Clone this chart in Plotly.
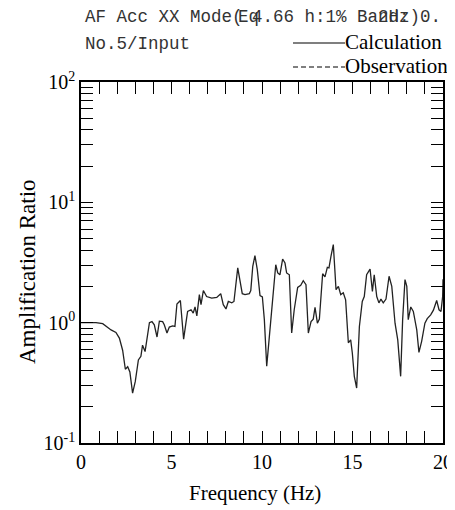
import plotly.graph_objects as go

# calculated amplification ratio
freq = [0.0, 0.83, 1.2, 1.66, 1.93, 2.12, 2.3, 2.45, 2.58, 2.7, 2.85, 3.0, 3.17, 3.31, 3.4, 3.54,
        3.78, 3.92, 4.05, 4.2, 4.33, 4.51, 4.6, 4.75, 4.88, 5.06, 5.19, 5.3, 5.49, 5.58, 5.67, 5.8,
        5.89, 6.08, 6.2, 6.3, 6.4, 6.54, 6.63, 6.76, 6.94, 7.22, 7.5, 7.72, 7.86, 8.01, 8.14, 8.33,
        8.45, 8.66, 8.78, 8.91, 9.06, 9.3, 9.38, 9.49, 9.61, 9.74, 9.89, 10.02, 10.13, 10.26, 10.39,
        10.54, 10.66, 10.76, 10.87, 10.99, 11.14, 11.27, 11.36, 11.51, 11.64, 11.78, 11.97, 12.14,
        12.28, 12.43, 12.56, 12.71, 12.83, 12.93, 13.06, 13.17, 13.35, 13.48, 13.61, 13.7, 13.81,
        13.94, 14.03, 14.09, 14.22, 14.35, 14.49, 14.62, 14.77, 14.9, 14.99, 15.1, 15.23, 15.38,
        15.54, 15.65, 15.78, 15.97, 16.1, 16.2, 16.34, 16.46, 16.57, 16.7, 16.85, 17.02, 17.17,
        17.35, 17.5, 17.66, 17.77, 17.9, 18.0, 18.08, 18.22, 18.36, 18.55, 18.67, 18.82, 19.0,
        19.13, 19.32, 19.47, 19.65, 19.78, 19.89, 19.98, 20.0]
amp = [1.0, 1.0, 0.98, 0.87, 0.83, 0.745, 0.59, 0.41, 0.43, 0.39, 0.26, 0.325, 0.49, 0.525, 0.65, 0.575,
       1.0, 1.02, 0.96, 0.76, 1.03, 1.02, 0.96, 0.82, 0.92, 0.94, 0.93, 1.43, 1.53, 1.04, 0.73, 1.0,
       1.24, 1.28, 1.2, 1.35, 1.14, 1.71, 1.41, 1.85, 1.65, 1.6, 1.62, 1.74, 1.41, 1.3, 1.5, 1.46,
       1.5, 2.85, 2.2, 1.74, 1.71, 1.74, 1.85, 2.94, 3.6, 2.76, 1.68, 1.64, 1.06, 0.434, 0.72,
       1.28, 2.0, 3.03, 2.59, 2.5, 3.38, 3.13, 2.59, 2.5, 0.82, 1.28, 1.96, 2.04,
       2.23, 2.07, 0.82, 1.02, 1.07, 1.34, 0.99, 1.07, 2.55, 2.4, 2.88, 2.85, 3.56,
       4.45, 2.67, 1.88, 2.0, 1.71, 1.77, 1.55, 0.68, 0.72, 0.56, 0.358, 0.286, 0.93,
       1.5, 1.65, 2.5, 2.79, 1.82, 2.5, 1.65, 1.46, 1.57, 1.46, 1.57, 2.43, 2.0,
       0.99, 0.72, 0.358, 1.06, 2.28, 2.0, 1.06, 1.35, 1.24, 0.87, 0.566, 0.70, 0.99,
       1.08, 1.16, 1.27, 1.53, 1.28, 1.24, 1.65, 2.3]

x_major = [0, 5, 10, 15, 20]
x_minor = [v for v in range(0, 21) if v % 5]
y_major = [0.1, 1, 10, 100]
y_major_text = ["10<sup>-1</sup>", "10<sup>0</sup>", "10<sup>1</sup>", "10<sup>2</sup>"]
y_minor = [m * 10.0 ** e for e in (-1, 0, 1) for m in range(2, 10)]

serif = "Liberation Serif, Times New Roman, serif"
mono = "Liberation Mono, Courier New, monospace"

W, H = 455, 510
OFF = 8  # page body margin
L, R, T, B = 73, 20, 74, 75
pw, ph = W - L - R, H - T - B

# screen pixel -> paper coords
def px(x):
    return (x - OFF - L) / pw

def py(y):
    return (H - B - (y - OFF)) / ph

fig = go.Figure()
fig.add_trace(go.Scatter(x=freq, y=amp, mode="lines", line=dict(color="#222", width=1.3),
                         showlegend=False, hoverinfo="skip"))

axis_common = dict(showgrid=False, zeroline=False, showline=True, linecolor="black", linewidth=1.5,
                   mirror="ticks", ticks="inside", ticklen=12, tickwidth=1.2, tickcolor="black",
                   tickfont=dict(family=serif, size=20, color="black"))
minor_common = dict(ticks="inside", ticklen=12, tickwidth=1.2, tickcolor="black", showgrid=False)

fig.update_xaxes(range=[0, 20], tickmode="array", tickvals=x_major,
                 minor=dict(tickmode="array", tickvals=x_minor, **minor_common), **axis_common)
fig.update_yaxes(type="log", range=[-1, 2], tickmode="array", tickvals=y_major, ticktext=y_major_text,
                 minor=dict(tickmode="array", tickvals=y_minor, **minor_common), **axis_common)

# axis titles
fig.add_annotation(x=px(255), y=py(493), xref="paper", yref="paper", text="Frequency (Hz)",
                   showarrow=False, xanchor="center", yanchor="middle",
                   font=dict(family=serif, size=21, color="black"))
fig.add_annotation(x=px(27), y=py(272), xref="paper", yref="paper", text="Amplification Ratio",
                   showarrow=False, xanchor="center", yanchor="middle", textangle=-90,
                   font=dict(family=serif, size=23, color="black"))

# header texts (overlapping pieces as in the original print)
cw = 10.5
head = [("AF Acc XX Mode(", 0), ("Eq", 14.6), ("4.66 h:1% Band:", 15.95), ("2Hz)", 27.9), ("0.", 31.9)]
for txt, k in head:
    fig.add_annotation(x=px(83 + k * cw), y=py(16.5), xref="paper", yref="paper", text=txt,
                       showarrow=False, xanchor="left", yanchor="middle",
                       font=dict(family=mono, size=17.5, color="#333"))
fig.add_annotation(x=px(83), y=py(44), xref="paper", yref="paper", text="No.5/Input",
                   showarrow=False, xanchor="left", yanchor="middle",
                   font=dict(family=mono, size=17.5, color="#333"))

# legend drawn by hand
fig.add_shape(type="line", xref="paper", yref="paper", x0=px(293), x1=px(345), y0=py(43), y1=py(43),
              line=dict(color="black", width=1.2))
fig.add_shape(type="line", xref="paper", yref="paper", x0=px(293), x1=px(345), y0=py(67), y1=py(67),
              line=dict(color="black", width=1.2, dash="5px,3px"))
fig.add_annotation(x=px(343), y=py(42), xref="paper", yref="paper", text="Calculation", showarrow=False,
                   xanchor="left", yanchor="middle", font=dict(family=serif, size=21, color="black"))
fig.add_annotation(x=px(343), y=py(66), xref="paper", yref="paper", text="Observation", showarrow=False,
                   xanchor="left", yanchor="middle", font=dict(family=serif, size=21, color="black"))

fig.update_layout(width=W, height=H, margin=dict(l=L, r=R, t=T, b=B, autoexpand=False),
                  plot_bgcolor="white", paper_bgcolor="white", showlegend=False)

fig.write_html("out.html")
